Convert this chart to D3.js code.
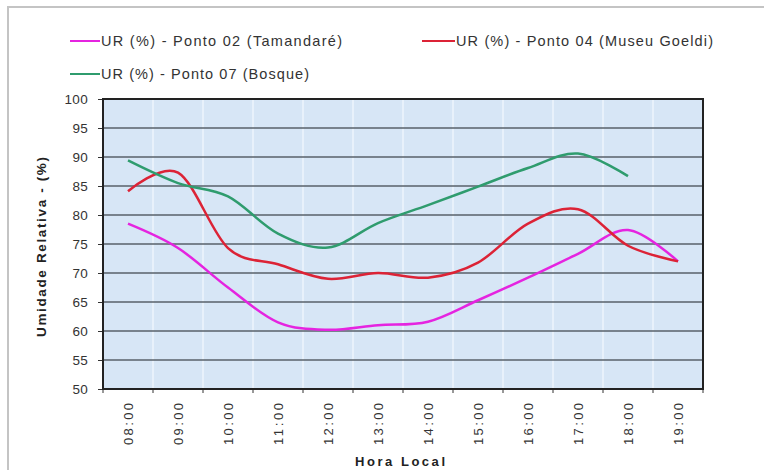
<!DOCTYPE html>
<html><head><meta charset="utf-8">
<script src="https://cdn.jsdelivr.net/npm/d3@7"></script>
<style>
body{margin:0;background:#fff;}
svg{display:block;font-family:Arial,"Liberation Sans",sans-serif;}
</style></head>
<body><svg id="c" width="764" height="470"></svg>
<script>
const hours = ["08:00","09:00","10:00","11:00","12:00","13:00","14:00","15:00","16:00","17:00","18:00","19:00"];
const seriesNames = ["UR (%) - Ponto 02 (Tamandaré)","UR (%) - Ponto 04 (Museu Goeldi)","UR (%) - Ponto 07 (Bosque)"];
const ponto02 = [78.5, 74.3, 67.5, 61.5, 60.2, 61.0, 61.6, 65.3, 69.2, 73.3, 77.4, 72.0];
const ponto04 = [84.1, 87.3, 74.3, 71.5, 69.0, 70.0, 69.2, 71.8, 78.5, 81.0, 74.7, 72.0];
const ponto07 = [89.4, 85.5, 83.2, 76.8, 74.4, 78.6, 81.7, 84.9, 88.1, 90.6, 86.7];
const yTicks = [50,55,60,65,70,75,80,85,90,95,100];
const colors = ["#e524e0","#dc2336","#2f9c6e"];

const svg = d3.select("#c");
const L=103,R=703,T=99,B=389;

// outer chart border
svg.append("rect").attr("x",8).attr("y",7).attr("width",780).attr("height",500)
  .attr("fill","#fff").attr("stroke","#c4c4c4").attr("stroke-width",2);

const x = d3.scaleBand().domain(hours).range([L,R]);
const y = d3.scaleLinear().domain([50,100]).range([B,T]);

svg.append("rect").attr("x",L).attr("y",T).attr("width",R-L).attr("height",B-T).attr("fill","#d7e6f6");

// faint vertical lines
svg.append("g").selectAll("line").data(hours.slice(1)).join("line")
  .attr("x1",d=>x(d)).attr("x2",d=>x(d)).attr("y1",T).attr("y2",B)
  .attr("stroke","#eef5fc").attr("stroke-width",1.5);

// horizontal grid
svg.append("g").selectAll("line").data(yTicks.slice(1,-1)).join("line")
  .attr("x1",L).attr("x2",R).attr("y1",d=>y(d)).attr("y2",d=>y(d))
  .attr("stroke","#58606a").attr("stroke-width",1.3);

// y axis
const yAxis = svg.append("g").attr("transform",`translate(${L},0)`)
  .call(d3.axisLeft(y).tickValues(yTicks).tickSize(5).tickPadding(10));
yAxis.select(".domain").remove();
yAxis.selectAll(".tick line").attr("stroke","#333");
yAxis.selectAll("text").attr("font-size",13.5).attr("fill","#333").attr("letter-spacing",0.3)
  .attr("font-family","Arial,'Liberation Sans',sans-serif");

// x axis
const xAxis = svg.append("g").attr("transform",`translate(0,${B})`)
  .call(d3.axisBottom(x).tickSize(0).tickPadding(0));
xAxis.select(".domain").remove();
xAxis.selectAll(".tick text").attr("transform","rotate(-90)")
  .attr("text-anchor","end").attr("x",-14).attr("y",0).attr("dy","0.35em")
  .attr("font-size",13).attr("fill","#333").attr("textLength",42).attr("lengthAdjust","spacing")
  .attr("font-family","Arial,'Liberation Sans',sans-serif");
svg.append("g").selectAll("line").data(hours).join("line")
  .attr("x1",d=>x(d)+x.bandwidth()).attr("x2",d=>x(d)+x.bandwidth()).attr("y1",B).attr("y2",B+4)
  .attr("stroke","#333");
svg.append("line").attr("x1",L).attr("x2",L).attr("y1",B).attr("y2",B+4).attr("stroke","#333");

// plot border
svg.append("rect").attr("x",L).attr("y",T).attr("width",R-L).attr("height",B-T)
  .attr("fill","none").attr("stroke","#222").attr("stroke-width",2);

// lines
const line = d3.line().x((d,i)=>x(hours[i])+x.bandwidth()/2).y(d=>y(d)).curve(d3.curveCardinal.tension(0));
[ponto02,ponto04,ponto07].forEach((s,i)=>{
  svg.append("path").datum(s).attr("d",line).attr("fill","none")
    .attr("stroke",colors[i]).attr("stroke-width",2.5).attr("stroke-linejoin","round");
});

// axis titles
svg.append("text").attr("transform",`translate(46,247) rotate(-90)`).attr("text-anchor","middle")
  .attr("font-size",13.5).attr("font-weight","bold").attr("fill","#222").attr("textLength",180).attr("lengthAdjust","spacing")
  .text("Umidade Relativa - (%)");
svg.append("text").attr("x",400).attr("y",466).attr("text-anchor","middle")
  .attr("font-size",13).attr("font-weight","bold").attr("fill","#222").attr("textLength",90).attr("lengthAdjust","spacing")
  .text("Hora  Local");

// legend
const leg = [
  {x1:70,x2:100,ty:41,tx:101,w:241},
  {x1:422,x2:455,ty:41,tx:456,w:257},
  {x1:70,x2:100,ty:74,tx:101,w:208}
];
leg.forEach((l,i)=>{
  svg.append("line").attr("x1",l.x1).attr("x2",l.x2).attr("y1",l.ty).attr("y2",l.ty)
    .attr("stroke",colors[i]).attr("stroke-width",2);
  svg.append("text").attr("x",l.tx).attr("y",l.ty).attr("dy","0.36em").attr("font-size",14.5)
    .attr("fill","#333").attr("textLength",l.w).attr("lengthAdjust","spacing").text(seriesNames[i]);
});
</script></body></html>
